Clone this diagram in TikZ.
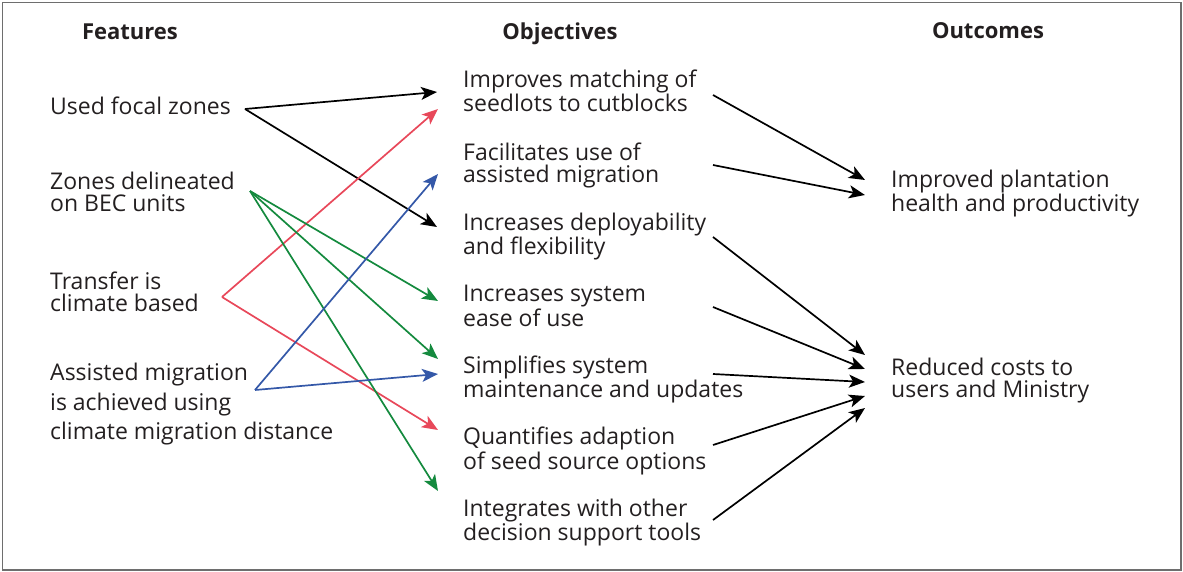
\documentclass[tikz,border=0pt]{standalone}
\usepackage{fontspec}
\setmainfont{Open Sans}
\usetikzlibrary{arrows.meta}
\definecolor{txtgray}{RGB}{35,31,32}
\definecolor{lnred}{RGB}{232,72,90}
\definecolor{lngreen}{RGB}{20,138,62}
\definecolor{lnblue}{RGB}{52,88,168}
\definecolor{framegray}{RGB}{110,110,110}

\begin{document}
\begin{tikzpicture}[x=1pt,y=-1pt,
  every node/.style={font=\fontsize{23}{22.5}\selectfont,text=txtgray,inner sep=0pt},
  head/.style={font=\fontsize{22}{22}\selectfont\bfseries,anchor=base},
  item/.style={align=left,anchor=base west},
  link/.style={-{Stealth[length=16pt,width=13pt,inset=4pt]},line width=1.7pt}
]
\useasboundingbox (0,0) rectangle (1183,572);
\draw[framegray,line width=1.5pt] (2.5,2.5) rectangle (1181,570);

% column heads
\node[head] (hfeat) at (130,39.5) {Features};
\node[head] (hobj) at (560,39.5) {Objectives};
\node[head] (hout) at (988,39) {Outcomes};

% features (anchored on the last line)
\node[item] (feat1) at (50,114.5) {Used focal zones};
\node[item] (feat2) at (50,211.5) {Zones delineated\\on BEC units};
\node[item] (feat3) at (50,311.5) {Transfer is\\climate based};
\node[item] (feat4) at (50,439.5) {Assisted migration\\[5.5pt]is achieved using\\[5.5pt]climate migration distance};

% objectives
\node[item] (obj1) at (463,111.5) {Improves matching of\\seedlots to cutblocks};
\node[item] (obj2) at (463,183) {Facilitates use of\\assisted migration};
\node[item] (obj3) at (463,254.5) {Increases deployability\\and flexibility};
\node[item] (obj4) at (463,326) {Increases system\\ease of use};
\node[item] (obj5) at (463,397.5) {Simplifies system\\maintenance and updates};
\node[item] (obj6) at (463,469) {Quantifies adaption\\of seed source options};
\node[item] (obj7) at (463,540.5) {Integrates with other\\decision support tools};

% outcomes
\node[item] (out1) at (891,211.5) {Improved plantation\\health and productivity};
\node[item] (out2) at (891,397.5) {Reduced costs to\\users and Ministry};

% connector ends
\coordinate (f1) at (245,109);
\coordinate (f2) at (250,191);
\coordinate (f3) at (222,297);
\coordinate (f4) at (255,390);
\coordinate (o1a) at (437,92);
\coordinate (o1b) at (438,109);
\coordinate (o2a) at (438,174);
\coordinate (o3a) at (437,227);
\coordinate (o4a) at (438,301);
\coordinate (o5a) at (438,359);
\coordinate (o5b) at (438,374);
\coordinate (o6a) at (438,430);
\coordinate (o7a) at (438,491);
\coordinate (s1) at (713,95);
\coordinate (s2) at (713,165);
\coordinate (s3) at (713,237);
\coordinate (s4) at (713,307);
\coordinate (s5) at (713,374);
\coordinate (s6) at (713,445);
\coordinate (s7) at (713,520);
\coordinate (c1a) at (865,180);
\coordinate (c1b) at (865,195);
\coordinate (c2a) at (865,355);
\coordinate (c2b) at (865,369);
\coordinate (c2c) at (865,382);
\coordinate (c2d) at (865,396);
\coordinate (c2e) at (865,408);

% features -> objectives
\draw[link,black] (f1) -- (o1a);
\draw[link,black] (f1) -- (o3a);
\draw[link,lnred] (f3) -- (o1b);
\draw[link,lnred] (f3) -- (o6a);
\draw[link,lngreen] (f2) -- (o4a);
\draw[link,lngreen] (f2) -- (o5a);
\draw[link,lngreen] (f2) -- (o7a);
\draw[link,lnblue] (f4) -- (o2a);
\draw[link,lnblue] (f4) -- (o5b);

% objectives -> outcomes
\draw[link,black] (s1) -- (c1a);
\draw[link,black] (s2) -- (c1b);
\draw[link,black] (s3) -- (c2a);
\draw[link,black] (s4) -- (c2b);
\draw[link,black] (s5) -- (c2c);
\draw[link,black] (s6) -- (c2d);
\draw[link,black] (s7) -- (c2e);
\end{tikzpicture}
\end{document}
